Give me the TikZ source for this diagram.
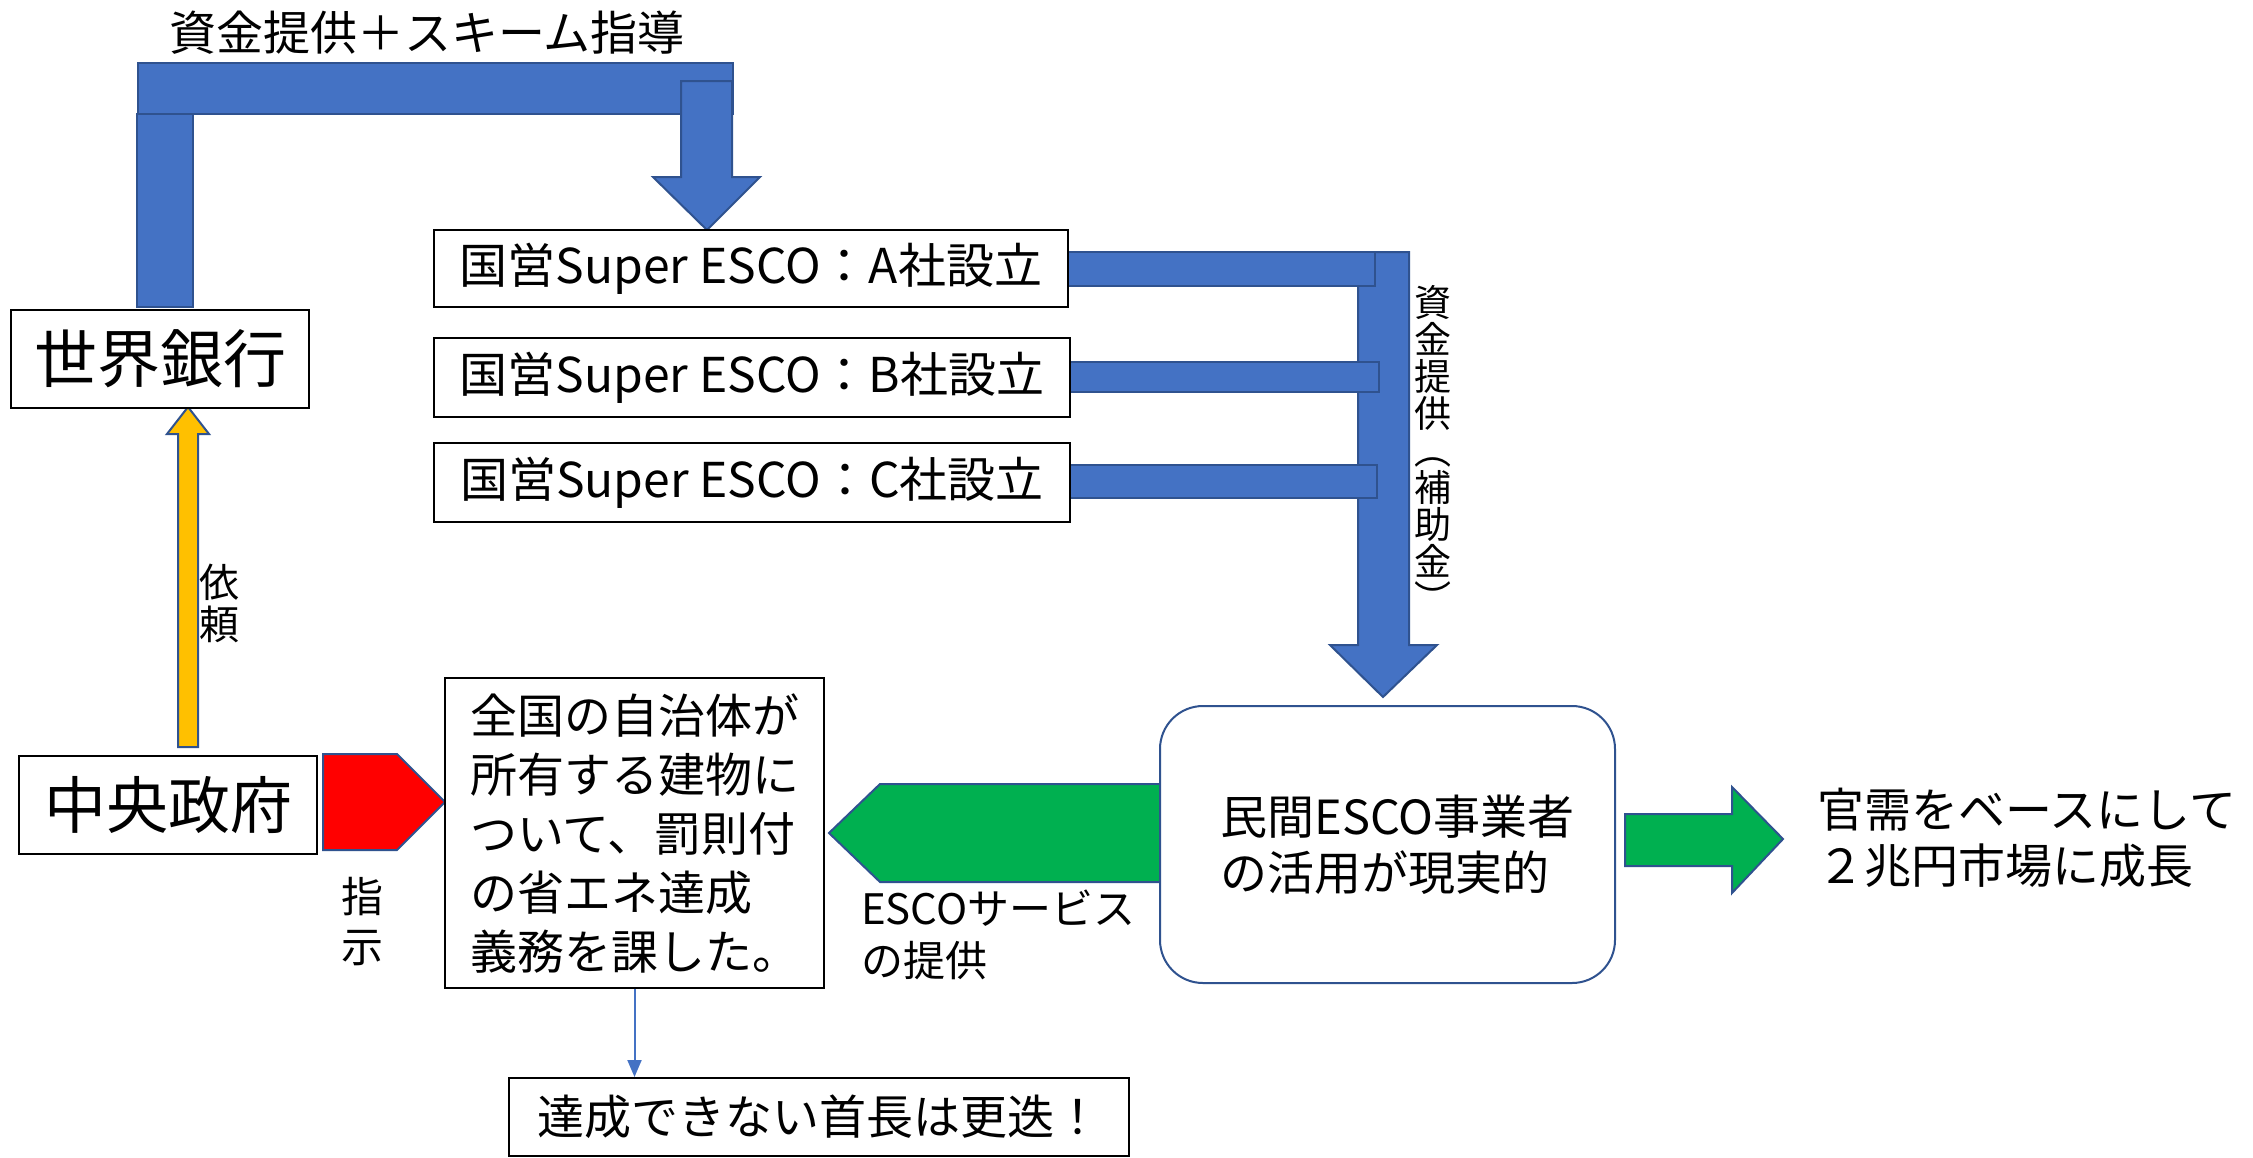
\documentclass[tikz,border=0pt]{standalone}
\usepackage{fontspec}
\setmainfont{Noto Sans CJK JP}
\usetikzlibrary{arrows.meta}
\definecolor{fillblue}{HTML}{4472C4}
\definecolor{lineblue}{HTML}{2F528F}
\definecolor{arrgreen}{HTML}{00B050}
\definecolor{arryellow}{HTML}{FFC000}
\newcommand\setfs[2]{\fontsize{#1}{#2}\selectfont}
\tikzset{
  box/.style={draw=black, line width=2pt, fill=white, inner sep=0pt},
  bluearrow/.style={fill=fillblue, draw=lineblue, line width=2pt, line join=miter},
  greenarrow/.style={fill=arrgreen, draw=lineblue, line width=2pt, line join=miter},
  redarrow/.style={fill=red, draw=lineblue, line width=2pt, line join=miter},
  yellowarrow/.style={fill=arryellow, draw=lineblue, line width=2pt, line join=miter},
  lbl/.style={inner sep=0pt, text=black},
}
\begin{document}
\begin{tikzpicture}[x=1pt,y=-1pt]
\useasboundingbox[fill=white] (0,0) rectangle (2253,1157);

% top bent arrow (World Bank -> Super ESCO)
\draw[bluearrow] (138,63) rectangle (733,114);
\draw[bluearrow] (137,114) rectangle (193,307);
\draw[bluearrow] (681,81) -- (732,81) -- (732,177) -- (760,177) -- (707,230) -- (653,177) -- (681,177) -- cycle;

% right down arrow with three feeders
\draw[bluearrow] (1358,252) -- (1409,252) -- (1409,645) -- (1437,645) -- (1383,697) -- (1330,645) -- (1358,645) -- cycle;
\draw[bluearrow] (1068,252) rectangle (1375,286);
\draw[bluearrow] (1070,362) rectangle (1379,392);
\draw[bluearrow] (1070,465) rectangle (1377,498);

% yellow up arrow
\draw[yellowarrow] (178,747) -- (198,747) -- (198,434) -- (209,434) -- (188,407) -- (167,434) -- (178,434) -- cycle;

% red pentagon
\draw[redarrow] (323,754) -- (397,754) -- (445,802) -- (397,850) -- (323,850) -- cycle;

% green left arrow (under rounded box)
\draw[greenarrow] (1160,784) -- (880,784) -- (829,833) -- (880,882) -- (1160,882);
\fill[arrgreen] (1150,785) rectangle (1162,881);

% green right arrow
\draw[greenarrow] (1625,814) -- (1732,814) -- (1732,787) -- (1783,839) -- (1732,893) -- (1732,866) -- (1625,866) -- cycle;

% boxes
\node[box, minimum width=298pt, minimum height=98pt, font=\setfs{63}{70}] (wb) at (160,359) {世界銀行};
\node[box, minimum width=298pt, minimum height=98pt, font=\setfs{62}{70}] (gov) at (168,805) {中央政府};
\node[box, minimum width=634pt, minimum height=77pt, font=\setfs{48}{56}] (sa) at (751,268.5) {国営Super ESCO：A社設立};
\node[box, minimum width=636pt, minimum height=79pt, font=\setfs{48}{56}] (sb) at (752,377.5) {国営Super ESCO：B社設立};
\node[box, minimum width=636pt, minimum height=79pt, font=\setfs{48}{56}] (sc) at (752,482.5) {国営Super ESCO：C社設立};
\node[box, minimum width=379pt, minimum height=310pt, align=left, font=\setfs{47}{59}] (mid) at (634.5,833)
  {全国の自治体が\\所有する建物に\\ついて、罰則付\\の省エネ達成\\義務を課した。};
\node[draw=lineblue, line width=2pt, fill=white, rounded corners=43pt, minimum width=455pt, minimum height=277pt,
      inner sep=0pt, align=left, font=\setfs{47}{56}] (pri) at (1387.5,844.5)
  {\hspace*{20pt}民間ESCO事業者\\\hspace*{20pt}の活用が現実的};
\node[box, minimum width=620pt, minimum height=78pt, font=\setfs{47}{56}] (mayor) at (819,1117) {達成できない首長は更迭！};

% labels
\node[lbl, font=\setfs{47}{56}] (toplbl) at (427,33) {資金提供＋スキーム指導};
\node[lbl, anchor=north, align=center, font=\setfs{37}{37}] (vlbl) at (1433,285) {資\\金\\提\\供\\︵\\補\\助\\金\\︶};
\node[lbl, align=center, font=\setfs{40}{42}] (req) at (219,603) {依\\頼};
\node[lbl, align=center, font=\setfs{42}{50}] (ins) at (362,922) {指\\示};
\node[lbl, anchor=west, align=left, font=\setfs{42}{52}] (svc) at (861,935) {ESCOサービス\\の提供};
\node[lbl, anchor=west, align=left, font=\setfs{47}{56}] (growth) at (1817,838) {官需をベースにして\\２兆円市場に成長};

% thin connector
\draw[fillblue, line width=2pt, -{Triangle[length=17pt,width=14pt]}] (mid.south) -- (mid.south |- mayor.north);
\end{tikzpicture}
\end{document}
